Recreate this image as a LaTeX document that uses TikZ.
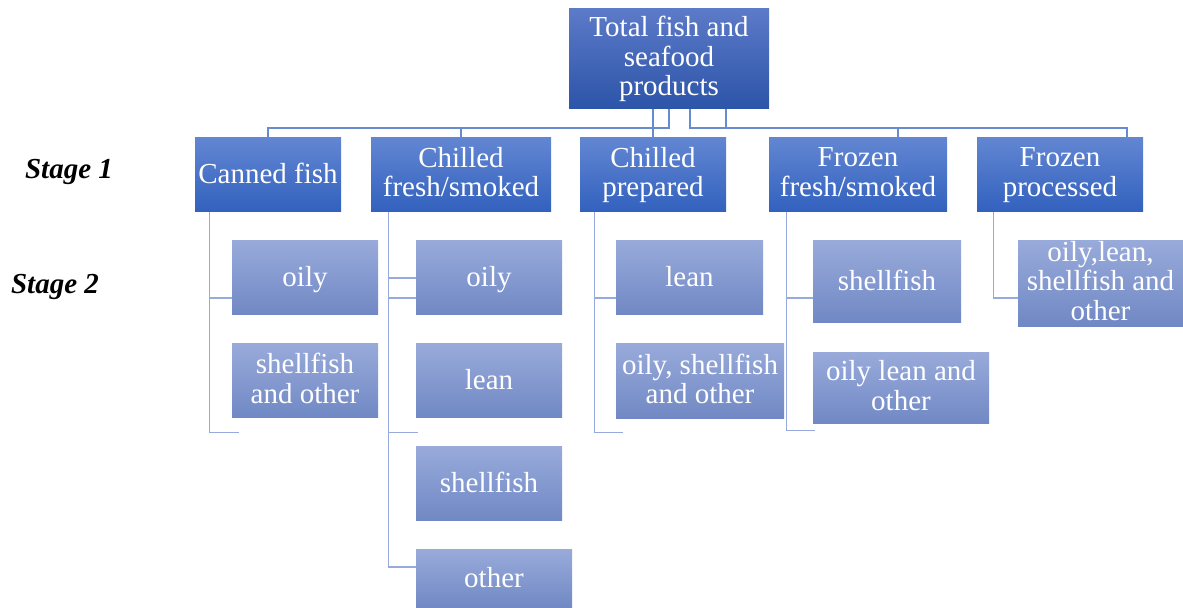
\documentclass[tikz,border=0pt]{standalone}
\usepackage{fontspec}
\setmainfont{Liberation Serif}

\definecolor{rootTop}{RGB}{92,122,200}
\definecolor{rootBot}{RGB}{44,84,168}
\definecolor{mainTop}{RGB}{98,134,210}
\definecolor{mainBot}{RGB}{50,97,190}
\definecolor{subTop}{RGB}{152,170,218}
\definecolor{subBot}{RGB}{112,136,196}
\definecolor{linkMain}{RGB}{104,138,208}
\definecolor{linkSub}{RGB}{150,170,222}
\newcommand{\boxstrut}{\rule[-2.9pt]{0pt}{14.8pt}}

\begin{document}
\begin{tikzpicture}[x=0.5pt,y=-0.5pt,
    every node/.style={font=\fontsize{14.5}{14.8}\selectfont,align=center,inner sep=0pt},
    rootbox/.style={top color=rootTop,bottom color=rootBot,text=white,execute at begin node=\boxstrut,execute at end node=\boxstrut},
    mainbox/.style={top color=mainTop,bottom color=mainBot,text=white,minimum height=37pt,execute at begin node=\boxstrut,execute at end node=\boxstrut},
    subbox/.style={top color=subTop,bottom color=subBot,text=white,execute at begin node=\boxstrut,execute at end node=\boxstrut},
    mainlink/.style={draw=linkMain,line width=1pt},
    sublink/.style={draw=linkSub,line width=0.75pt},
    stagelabel/.style={font=\fontsize{14.5}{14.8}\selectfont\bfseries\itshape}]
    \useasboundingbox (0,0) rectangle (1183,608);
    % stage labels
    \node[stagelabel] (stage1) at (69,172) {Stage 1};
    \node[stagelabel] (stage2) at (55,287) {Stage 2};
    % top
    \node[rootbox,minimum width=100pt,minimum height=50pt] (total) at (669,59) {Total fish and\\seafood\\products};
    % stage 1
    \node[mainbox,minimum width=73pt] (canned) at (268,175) {Canned fish};
    \node[mainbox,minimum width=90pt] (chfresh) at (461,175) {Chilled\\fresh/smoked};
    \node[mainbox,minimum width=73pt] (chprep) at (653,175) {Chilled\\prepared};
    \node[mainbox,minimum width=89pt] (frfresh) at (858,175) {Frozen\\fresh/smoked};
    \node[mainbox,minimum width=83pt] (frproc) at (1060,175) {Frozen\\processed};
    % stage 2
    \node[subbox,minimum width=73pt,minimum height=37pt] (coily) at (305,278) {oily};
    \node[subbox,minimum width=73pt,minimum height=37pt] (cshell) at (305,381) {shellfish\\and other};
    \node[subbox,minimum width=73pt,minimum height=37pt] (foily) at (489,278) {oily};
    \node[subbox,minimum width=73pt,minimum height=37pt] (flean) at (489,381) {lean};
    \node[subbox,minimum width=73pt,minimum height=37pt] (fshell) at (489,484) {shellfish};
    \node[subbox,minimum width=78pt,minimum height=29pt] (fother) at (494,579) {other};
    \node[subbox,minimum width=73.5pt,minimum height=37pt] (plean) at (689.5,278) {lean};
    \node[subbox,minimum width=84pt,minimum height=37.5pt] (poily) at (700,381.5) {oily, shellfish\\and other};
    \node[subbox,minimum width=74pt,minimum height=41pt] (zshell) at (887,282) {shellfish};
    \node[subbox,minimum width=88pt,minimum height=35.5pt] (zoily) at (901,388.5) {oily lean and\\other};
    \node[subbox,minimum width=82.5pt,minimum height=42.5pt] (roily) at (1100.5,283.5) {oily,lean,\\shellfish and\\other};
    % links to stage 1
    \coordinate (bar) at (0,128);
    \coordinate (frdrop) at ([xshift=20pt]frfresh.north);
    \coordinate (prdrop) at ([xshift=33.5pt]frproc.north);
    \draw[mainlink] (total.south -| chprep.north) |- (bar -| canned.north) -- (canned.north);
    \draw[mainlink] (total.south) |- (bar -| chfresh.north) -- (chfresh.north);
    \draw[mainlink] (total.south -| chprep.north) -- (chprep.north);
    \draw[mainlink] ([xshift=10.5pt]total.south) |- (bar -| frdrop) -- (frdrop);
    \draw[mainlink] ([xshift=28.5pt]total.south) |- (bar -| prdrop) -- (prdrop);
    % links to stage 2
    \coordinate (ctrunk) at ([xshift=7.5pt]canned.south west);
    \coordinate (ftrunk) at ([xshift=9pt]chfresh.south west);
    \coordinate (ptrunk) at ([xshift=7.5pt]chprep.south west);
    \coordinate (ztrunk) at ([xshift=9pt]frfresh.south west);
    \coordinate (rtrunk) at ([xshift=8.5pt]frproc.south west);
    \draw[sublink] (ctrunk) |- ([yshift=-10pt]coily.west);
    \draw[sublink] (ctrunk) |- ([xshift=3.5pt,yshift=-7pt]cshell.south west);
    \draw[sublink] (ftrunk) |- (foily.west);
    \draw[sublink] (ftrunk) |- ([yshift=-10pt]foily.west);
    \draw[sublink] (ftrunk) |- ([xshift=1pt,yshift=-7pt]flean.south west);
    \draw[sublink] (ftrunk) |- ([yshift=6pt]fother.west);
    \draw[sublink] (ptrunk) |- ([yshift=-10pt]plean.west);
    \draw[sublink] (ptrunk) |- ([xshift=3.5pt,yshift=-6.5pt]poily.south west);
    \draw[sublink] (ztrunk) |- ([yshift=-8pt]zshell.west);
    \draw[sublink] (ztrunk) |- ([xshift=1pt,yshift=-3pt]zoily.south west);
    \draw[sublink] (rtrunk) |- ([yshift=-7.25pt]roily.west);
\end{tikzpicture}
\end{document}
